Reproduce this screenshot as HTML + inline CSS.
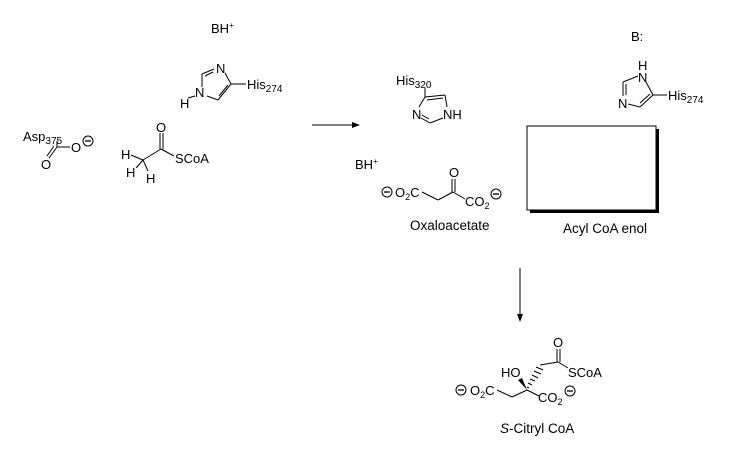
<!DOCTYPE html>
<html><head><style>
html,body{margin:0;padding:0;background:#fff;}
svg text{font-family:"Liberation Sans",Arial,sans-serif;font-size:13px;fill:#000;}
</style></head><body>
<svg width="742" height="454" viewBox="0 0 742 454" xmlns="http://www.w3.org/2000/svg">
<g stroke="#000" stroke-width="1" fill="none">
<!-- left imidazole -->
<line x1="214" y1="69" x2="202" y2="74"/>
<line x1="213" y1="72" x2="205" y2="76"/>
<line x1="202" y1="74" x2="202" y2="87"/>
<line x1="207" y1="96" x2="218" y2="100"/>
<line x1="218" y1="100" x2="231" y2="84"/>
<line x1="219" y1="96" x2="228" y2="85"/>
<line x1="231" y1="84" x2="225" y2="73"/>
<line x1="231" y1="84" x2="246" y2="84"/>
<line x1="188" y1="98" x2="195" y2="96"/>
<!-- Asp -->
<line x1="57" y1="141" x2="57" y2="147"/>
<line x1="57" y1="147" x2="70" y2="147"/>
<line x1="57" y1="147" x2="49" y2="158"/>
<line x1="54" y1="146" x2="47" y2="156"/>
<!-- acetyl -->
<line x1="160" y1="133" x2="160" y2="149"/>
<line x1="163" y1="133" x2="163" y2="149"/>
<line x1="161" y1="149" x2="174" y2="156"/>
<line x1="161" y1="149" x2="143" y2="160"/>
<line x1="143" y1="160" x2="131" y2="155"/>
<line x1="143" y1="160" x2="136" y2="168"/>
<line x1="143" y1="160" x2="148" y2="171"/>
<!-- arrow -->
<line x1="312" y1="125" x2="352" y2="125"/>
<!-- His320 imidazole -->
<line x1="425" y1="88" x2="425" y2="97"/>
<line x1="425" y1="97" x2="445" y2="95"/>
<line x1="427" y1="100" x2="443" y2="98"/>
<line x1="425" y1="97" x2="419" y2="107"/>
<line x1="445" y1="95" x2="447" y2="107"/>
<line x1="421" y1="118" x2="430" y2="123"/>
<line x1="422" y1="115" x2="429" y2="119"/>
<line x1="430" y1="123" x2="443" y2="118"/>
<!-- right imidazole -->
<line x1="646" y1="82" x2="653" y2="95"/>
<line x1="653" y1="95" x2="667" y2="95"/>
<line x1="653" y1="95" x2="640" y2="107"/>
<line x1="650" y1="94" x2="640" y2="103"/>
<line x1="640" y1="107" x2="628" y2="104"/>
<line x1="638" y1="76" x2="623" y2="82"/>
<line x1="623" y1="82" x2="623" y2="96"/>
<line x1="626" y1="84" x2="626" y2="95"/>
<!-- box -->
<rect x="530" y="129" width="129" height="84" fill="#000" stroke="none"/>
<rect x="527" y="126" width="129" height="84" fill="#fff"/>
<!-- oxaloacetate -->
<line x1="422" y1="192" x2="438" y2="200"/>
<line x1="438" y1="200" x2="453" y2="192"/>
<line x1="453" y1="192" x2="465" y2="199"/>
<line x1="452" y1="179" x2="452" y2="192"/>
<line x1="455" y1="179" x2="455" y2="192"/>
<!-- down arrow -->
<line x1="520" y1="268" x2="520" y2="314"/>
<!-- citryl -->
<line x1="557" y1="349" x2="557" y2="362"/>
<line x1="560" y1="349" x2="560" y2="362"/>
<line x1="558" y1="362" x2="568" y2="368"/>
<line x1="558" y1="362" x2="540" y2="365"/>
<line x1="512" y1="397" x2="497" y2="390"/>
<line x1="512" y1="397" x2="527" y2="390"/>
<line x1="527" y1="390" x2="539" y2="396"/>
</g>
<polygon points="352,122 360,125 352,128" fill="#000"/>
<polygon points="517,314 520,322 523,314" fill="#000"/>
<polygon points="527,390 518,380 522,378" fill="#000"/>
<g stroke="#000" stroke-width="1">
<line x1="527" y1="387" x2="529" y2="388"/><line x1="528" y1="383" x2="532" y2="385"/><line x1="530" y1="379" x2="535" y2="381"/><line x1="532" y1="375" x2="538" y2="378"/><line x1="534" y1="371" x2="541" y2="374"/><line x1="536" y1="367" x2="543" y2="370"/>
</g>
<g fill="none" stroke="#000" stroke-width="1">
<circle cx="88" cy="141" r="5"/><circle cx="387" cy="192" r="5"/><circle cx="496" cy="194" r="5"/><circle cx="461" cy="390" r="5"/><circle cx="570" cy="391" r="5"/>
</g>
<g stroke="#000" stroke-width="1.3"><line x1="85" y1="141" x2="91" y2="141"/><line x1="384" y1="192" x2="390" y2="192"/><line x1="493" y1="194" x2="499" y2="194"/><line x1="458" y1="390" x2="464" y2="390"/><line x1="567" y1="391" x2="573" y2="391"/></g>
<text x="211" y="33">BH<tspan font-size="8" dy="-5">+</tspan></text>
<text x="216" y="73">N</text>
<text x="195" y="97">N</text>
<text x="180" y="108">H</text>
<text x="247" y="89">His<tspan font-size="10" dy="3">274</tspan></text>
<text x="23" y="141">Asp<tspan font-size="10" dy="3">375</tspan></text>
<text x="71" y="152">O</text>
<text x="41" y="169">O</text>
<text x="156" y="132">O</text>
<text x="175" y="163">SCoA</text>
<text x="121" y="159">H</text>
<text x="126" y="177">H</text>
<text x="146" y="183">H</text>
<text x="396" y="85">His<tspan font-size="10" dy="3">320</tspan></text>
<text x="412" y="119">N</text>
<text x="443" y="119">NH</text>
<text x="631" y="41">B:</text>
<text x="638" y="70">H</text>
<text x="638" y="82">N</text>
<text x="618" y="108">N</text>
<text x="668" y="100">His<tspan font-size="10" dy="3">274</tspan></text>
<text x="355" y="169">BH<tspan font-size="8" dy="-5">+</tspan></text>
<text x="449" y="177">O</text>
<text x="395" y="197">O<tspan font-size="9" dy="3">2</tspan><tspan dy="-3">C</tspan></text>
<text x="465" y="206">CO<tspan font-size="9" dy="3">2</tspan></text>
<text x="410" y="230" style="font-size:13.5px">Oxaloacetate</text>
<text x="563" y="233" style="font-size:13.5px">Acyl CoA enol</text>
<text x="553" y="347">O</text>
<text x="568" y="377">SCoA</text>
<text x="501" y="377">HO</text>
<text x="470" y="395">O<tspan font-size="9" dy="3">2</tspan><tspan dy="-3">C</tspan></text>
<text x="538" y="402">CO<tspan font-size="9" dy="3">2</tspan></text>
<text x="500" y="433" style="font-size:13.5px"><tspan font-style="italic">S</tspan>-Citryl CoA</text>
</svg>
</body></html>
